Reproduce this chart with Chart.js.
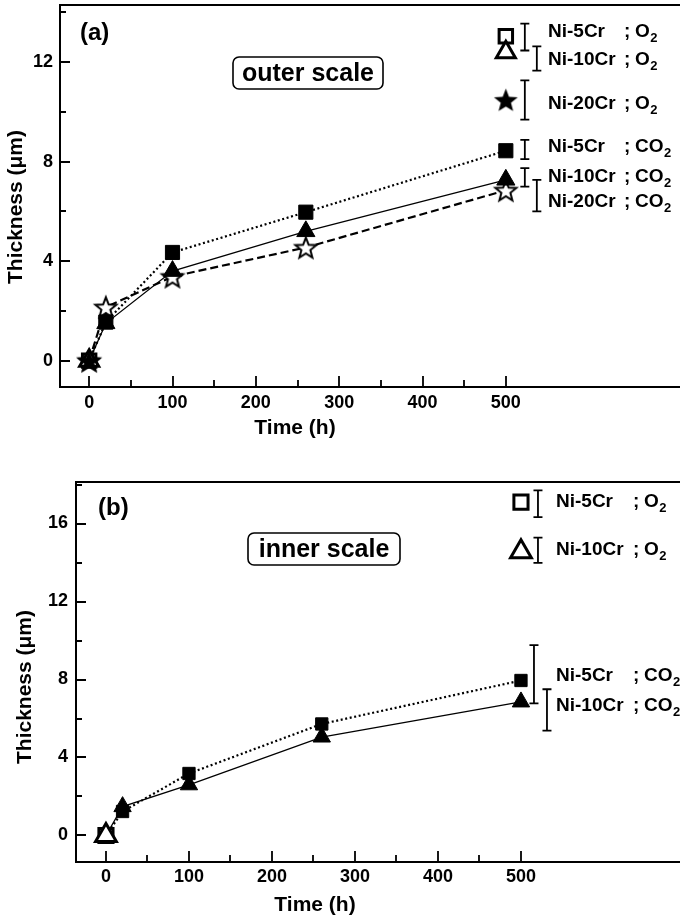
<!DOCTYPE html>
<html><head><meta charset="utf-8">
<script src="https://cdn.jsdelivr.net/npm/chart.js@4/dist/chart.umd.min.js"></script>
<style>
html,body{margin:0;padding:0;background:#fff;overflow:hidden;width:680px;height:919px;position:relative;}
canvas{display:block;position:absolute;left:0;}
#ca{top:0}
#cb{top:440px}
</style></head><body>
<canvas id="ca" width="680" height="440"></canvas>
<canvas id="cb" width="680" height="479"></canvas>
<script>
// ---------- DATA ----------
const timesCO2 = [0, 20, 100, 260, 500];
const timesO2 = [0, 500];

// Panel (a): outer scale thickness (µm)
const a_ni5_co2  = [0, 1.55, 4.35, 5.97, 8.44];
const a_ni10_co2 = [0, 1.5, 3.6, 5.2, 7.27];
const a_ni20_co2 = [0, 2.15, 3.38, 4.55, 6.85];
const a_ni5_o2   = [0, 13.04];
const a_ni10_o2  = [0, 12.4];
const a_ni20_o2  = [0, 10.49];
// error bars at 500 h, order: Ni-5Cr O2, Ni-10Cr O2, Ni-20Cr O2, Ni-5Cr CO2, Ni-10Cr CO2, Ni-20Cr CO2
const a_errLow  = [12.47, 11.66, 9.69, 8.10, 7.00, 6.00];
const a_errHigh = [13.55, 12.64, 11.27, 8.88, 7.74, 7.27];
const a_names = ['Ni-5Cr', 'Ni-10Cr', 'Ni-20Cr', 'Ni-5Cr', 'Ni-10Cr', 'Ni-20Cr'];
const a_gases = ['O2', 'O2', 'O2', 'CO2', 'CO2', 'CO2'];

// Panel (b): inner scale thickness (µm)
const b_ni5_co2  = [0, 1.23, 3.18, 5.72, 7.95];
const b_ni10_co2 = [0, 1.48, 2.6, 5.05, 6.85];
const b_ni5_o2   = [0, 17.1];
const b_ni10_o2  = [0, 14.55];
// order: Ni-5Cr O2, Ni-10Cr O2, Ni-5Cr CO2, Ni-10Cr CO2
const b_errLow  = [16.33, 13.98, 6.78, 5.38];
const b_errHigh = [17.70, 15.28, 9.76, 7.50];
const b_names = ['Ni-5Cr', 'Ni-10Cr', 'Ni-5Cr', 'Ni-10Cr'];
const b_gases = ['O2', 'O2', 'CO2', 'CO2'];

const xTicks = [0, 100, 200, 300, 400, 500];
const xMinor = [50, 150, 250, 350, 450];
const a_yTicks = [0, 4, 8, 12];
const a_yMinor = [2, 6, 10, 14];
const b_yTicks = [0, 4, 8, 12, 16];
const b_yMinor = [2, 6, 10, 14, 18];

// ---------- STYLE ----------
const FONT = '"Liberation Sans", Arial, Helvetica, sans-serif';

function starCanvas(R, fill, lw) {
  const s = Math.ceil(2 * R + lw * 2 + 4);
  const c = document.createElement('canvas');
  c.width = s; c.height = s;
  const g = c.getContext('2d');
  const cx = s / 2, cy = s / 2 + R * 0.1;
  g.beginPath();
  for (let i = 0; i < 10; i++) {
    const r = i % 2 ? R * 0.43 : R;
    const ang = -Math.PI / 2 + i * Math.PI / 5;
    g.lineTo(cx + r * Math.cos(ang), cy + r * Math.sin(ang));
  }
  g.closePath();
  g.fillStyle = fill; g.fill();
  if (lw) { g.lineWidth = lw; g.strokeStyle = '#000'; g.lineJoin = 'miter'; g.stroke(); }
  return c;
}
const starOpen = starCanvas(11, '#fff', 2);
const starFilled = starCanvas(12.5, '#000', 0);

function pts(xs, ys) { return xs.map((x, i) => ({ x: x, y: ys[i] })); }

const decor = {
  id: 'decor',
  afterDatasetsDraw(chart, args, o) {
    const ctx = chart.ctx, ca = chart.chartArea, xs = chart.scales.x, ys = chart.scales.y;
    ctx.save();
    ctx.strokeStyle = '#000';
    ctx.fillStyle = '#000';
    // frame
    ctx.lineWidth = 2;
    ctx.beginPath();
    ctx.moveTo(ca.left, ca.bottom); ctx.lineTo(ca.left, ca.top); ctx.lineTo(ca.right + 5, ca.top);
    ctx.moveTo(ca.left - 1, ca.bottom); ctx.lineTo(ca.right + 5, ca.bottom);
    ctx.stroke();
    // inward ticks
    ctx.lineWidth = 1.8;
    ctx.beginPath();
    o.yMajor.forEach(v => { const y = Math.round(ys.getPixelForValue(v)); ctx.moveTo(ca.left, y); ctx.lineTo(ca.left + 10, y); });
    o.yMinor.forEach(v => { const y = Math.round(ys.getPixelForValue(v)); ctx.moveTo(ca.left, y); ctx.lineTo(ca.left + 6, y); });
    o.xMajor.forEach(v => { const x = Math.round(xs.getPixelForValue(v)); ctx.moveTo(x, ca.bottom); ctx.lineTo(x, ca.bottom - 11); });
    o.xMinor.forEach(v => { const x = Math.round(xs.getPixelForValue(v)); ctx.moveTo(x, ca.bottom); ctx.lineTo(x, ca.bottom - 7); });
    ctx.stroke();
    // error bars
    ctx.lineWidth = 1.8;
    o.errLow.forEach((lo, i) => {
      const x = xs.getPixelForValue(o.errX) + o.errDx[i];
      const y1 = ys.getPixelForValue(lo), y2 = ys.getPixelForValue(o.errHigh[i]);
      ctx.beginPath();
      ctx.moveTo(x, y1); ctx.lineTo(x, y2);
      ctx.moveTo(x - 4.5, y1); ctx.lineTo(x + 4.5, y1);
      ctx.moveTo(x - 4.5, y2); ctx.lineTo(x + 4.5, y2);
      ctx.stroke();
    });
    // series labels
    ctx.textBaseline = 'middle';
    ctx.textAlign = 'left';
    o.names.forEach((n, i) => {
      const y = o.labelY[i];
      ctx.font = 'bold 19px ' + FONT;
      ctx.fillText(n, o.nameX, y);
      ctx.fillText(';', o.semiX, y);
      const g = o.gases[i];
      const main = g.slice(0, -1);
      const gx = o.semiX + 11;
      ctx.fillText(main, gx, y);
      const w = ctx.measureText(main).width;
      ctx.font = 'bold 13px ' + FONT;
      ctx.fillText('2', gx + w + 0.5, y + 6);
    });
    // panel letter
    ctx.font = 'bold 24px ' + FONT;
    ctx.fillText(o.letter, o.letterX, o.letterY);
    // boxed label
    const b = o.box;
    ctx.lineWidth = 1.6;
    ctx.beginPath();
    if (ctx.roundRect) ctx.roundRect(b.x, b.y, b.w, b.h, 6); else ctx.rect(b.x, b.y, b.w, b.h);
    ctx.stroke();
    ctx.font = 'bold 25px ' + FONT;
    ctx.textAlign = 'center';
    ctx.fillText(b.text, b.x + b.w / 2, b.y + b.h / 2 + 1);
    // axis titles
    ctx.font = 'bold 21px ' + FONT;
    ctx.fillText('Time (h)', o.xTitle[0], o.xTitle[1]);
    ctx.save();
    ctx.translate(o.yTitle[0], o.yTitle[1]);
    ctx.rotate(-Math.PI / 2);
    ctx.fillText('Thickness (\u03bcm)', 0, 0);
    ctx.restore();
    ctx.restore();
  }
};

function lineDs(data, style, bg, radius, bw, dash, lw, showLine) {
  return {
    data: data, pointStyle: style, pointRadius: radius, pointHoverRadius: radius,
    pointBackgroundColor: bg, pointBorderColor: '#000', pointBorderWidth: bw,
    borderColor: '#000', borderWidth: lw, borderDash: dash, showLine: showLine,
    tension: 0, fill: false, clip: false
  };
}

function makeChart(id, datasets, xMin, xMax, yMin, yMax, yTicks, axisW, axisH, padTop, xPad, yPad, decorOpts) {
  const tickFont = { family: FONT, size: 18, weight: 'bold' };
  return new Chart(document.getElementById(id), {
    type: 'line',
    data: { datasets: datasets },
    options: {
      responsive: false, animation: false, devicePixelRatio: 1,
      layout: { autoPadding: false, padding: { top: padTop, right: 0, left: 0, bottom: 0 } },
      plugins: { legend: { display: false }, tooltip: { enabled: false }, decor: decorOpts },
      scales: {
        x: {
          type: 'linear', min: xMin, max: xMax,
          afterBuildTicks: s => { s.ticks = xTicks.map(v => ({ value: v })); },
          afterFit: s => { s.height = axisH; s.paddingLeft = 0; s.paddingRight = 0; s.paddingTop = 0; s.paddingBottom = 0; },
          grid: { display: false, drawTicks: false }, border: { display: false },
          ticks: { padding: xPad, font: tickFont, color: '#000', maxRotation: 0, autoSkip: false }
        },
        y: {
          type: 'linear', min: yMin, max: yMax,
          afterBuildTicks: s => { s.ticks = yTicks.map(v => ({ value: v })); },
          afterFit: s => { s.width = axisW; s.paddingLeft = 0; s.paddingRight = 0; s.paddingTop = 0; s.paddingBottom = 0; },
          grid: { display: false, drawTicks: false }, border: { display: false },
          ticks: { padding: yPad, font: tickFont, color: '#000', autoSkip: false }
        }
      }
    },
    plugins: [decor]
  });
}

// Panel (a)
makeChart('ca', [
  lineDs(pts(timesO2, a_ni20_o2), starFilled, '#000', 10, 0, [], 0, false),
  lineDs(pts(timesO2, a_ni10_o2), 'triangle', '#fff', 11, 3, [], 0, false),
  lineDs(pts(timesO2, a_ni5_o2), 'rect', '#fff', 9.5, 3, [], 0, false),
  lineDs(pts(timesCO2, a_ni10_co2), 'triangle', '#000', 10.5, 1, [], 1.3, true),
  lineDs(pts(timesCO2, a_ni5_co2), 'rect', '#000', 10, 1, [2, 2.6], 2.2, true),
  lineDs(pts(timesCO2, a_ni20_co2), starOpen, '#fff', 10, 0, [8, 4], 2.2, true)
], -35, 709, -1.06, 14.3, a_yTicks, 60, 53, 5, 5, 7, {
  yMajor: a_yTicks, yMinor: a_yMinor, xMajor: xTicks, xMinor: xMinor,
  errX: 500, errLow: a_errLow, errHigh: a_errHigh, errDx: [19, 31, 19, 19, 19, 31],
  names: a_names, gases: a_gases, labelY: [32, 60, 104, 147, 177, 202], nameX: 548, semiX: 624,
  letter: '(a)', letterX: 80, letterY: 33,
  box: { x: 233, y: 57, w: 150, h: 32, text: 'outer scale' },
  xTitle: [295, 428], yTitle: [16, 207]
});

// Panel (b)
makeChart('cb', [
  lineDs(pts(timesO2, b_ni10_o2), 'triangle', '#fff', 12, 3, [], 0, false),
  lineDs(pts(timesO2, b_ni5_o2), 'rect', '#fff', 10, 3, [], 0, false),
  lineDs(pts(timesCO2, b_ni10_co2), 'triangle', '#000', 10, 1, [], 1.3, true),
  lineDs(pts(timesCO2, b_ni5_co2), 'rect', '#000', 8.7, 1, [2, 2.6], 2.2, true)
], -36.1, 691.6, -1.36, 18.13, b_yTicks, 76, 57, 42, 4, 8, {
  yMajor: b_yTicks, yMinor: b_yMinor, xMajor: xTicks, xMinor: xMinor,
  errX: 500, errLow: b_errLow, errHigh: b_errHigh, errDx: [17, 17, 13, 26],
  names: b_names, gases: b_gases, labelY: [62, 110, 236, 266], nameX: 556, semiX: 633,
  letter: '(b)', letterX: 98, letterY: 68,
  box: { x: 248, y: 93, w: 152, h: 32, text: 'inner scale' },
  xTitle: [315, 465], yTitle: [25, 247]
});
</script>
</body></html>
